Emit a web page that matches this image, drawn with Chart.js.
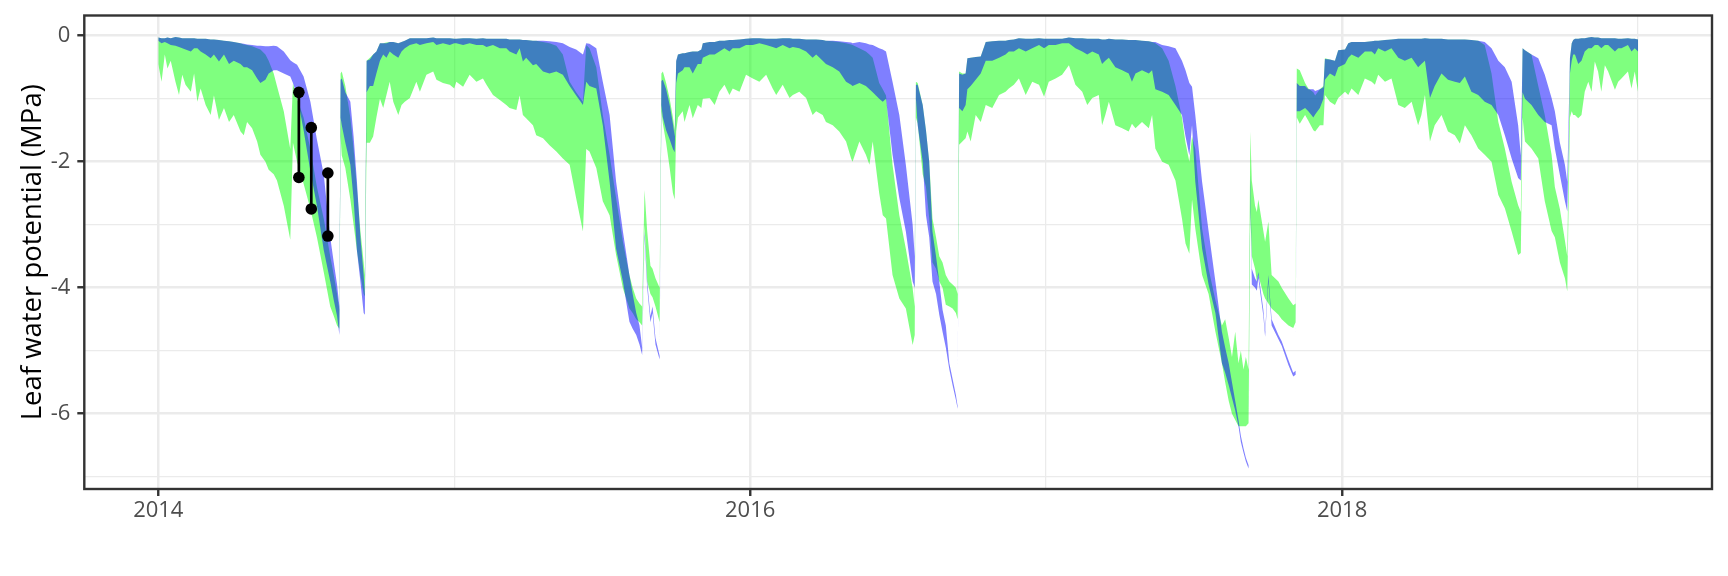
<!DOCTYPE html>
<html lang="en">
	<head>
		<meta charset="UTF-8" />
		<title>Leaf water potential</title>
		<script src="https://cdn.jsdelivr.net/npm/chart.js@4.4.1/dist/chart.umd.min.js"></script>
		<style>
			html, body { margin: 0; padding: 0; background: #ffffff; }
			#wrap { width: 1728px; height: 576px; }
		</style>
	</head>
	<body>
		<div id="wrap"><canvas id="lwpChart"></canvas></div>
		<script>
			// time axis in decimal years, values in MPa
			const dates = [
				2014.000, 2014.011, 2014.022, 2014.031, 2014.042, 2014.058, 2014.070, 2014.081, 2014.092, 2014.110,
				2014.121, 2014.132, 2014.143, 2014.160, 2014.177, 2014.188, 2014.205, 2014.222, 2014.239, 2014.255,
				2014.278, 2014.289, 2014.300, 2014.317, 2014.334, 2014.345, 2014.362, 2014.373, 2014.390, 2014.401,
				2014.424, 2014.446, 2014.455, 2014.469, 2014.491, 2014.514, 2014.536, 2014.559, 2014.581, 2014.593,
				2014.604, 2014.612, 2014.616, 2014.620, 2014.632, 2014.649, 2014.660, 2014.671, 2014.683, 2014.694,
				2014.698, 2014.704, 2014.715, 2014.726, 2014.737, 2014.749, 2014.760, 2014.771, 2014.782, 2014.794,
				2014.811, 2014.822, 2014.833, 2014.850, 2014.872, 2014.884, 2014.906, 2014.929, 2014.940, 2014.962,
				2014.985, 2015.000, 2015.007, 2015.030, 2015.052, 2015.075, 2015.097, 2015.109, 2015.131, 2015.154,
				2015.176, 2015.187, 2015.210, 2015.221, 2015.232, 2015.243, 2015.266, 2015.277, 2015.300, 2015.322,
				2015.345, 2015.367, 2015.390, 2015.412, 2015.435, 2015.446, 2015.457, 2015.480, 2015.502, 2015.525,
				2015.547, 2015.570, 2015.592, 2015.603, 2015.615, 2015.626, 2015.635, 2015.643, 2015.652, 2015.663,
				2015.670, 2015.680, 2015.694, 2015.700, 2015.705, 2015.716, 2015.728, 2015.739, 2015.745, 2015.750,
				2015.756, 2015.772, 2015.778, 2015.795, 2015.806, 2015.823, 2015.835, 2015.840, 2015.863, 2015.880,
				2015.896, 2015.913, 2015.930, 2015.941, 2015.964, 2015.986, 2016.009, 2016.031, 2016.054, 2016.076,
				2016.088, 2016.110, 2016.133, 2016.144, 2016.166, 2016.189, 2016.211, 2016.223, 2016.245, 2016.256,
				2016.279, 2016.301, 2016.324, 2016.341, 2016.346, 2016.369, 2016.391, 2016.403, 2016.414, 2016.436,
				2016.448, 2016.459, 2016.481, 2016.504, 2016.526, 2016.549, 2016.556, 2016.560, 2016.566, 2016.583,
				2016.594, 2016.605, 2016.616, 2016.628, 2016.639, 2016.650, 2016.661, 2016.673, 2016.684, 2016.695,
				2016.701, 2016.706, 2016.717, 2016.728, 2016.734, 2016.745, 2016.762, 2016.779, 2016.796, 2016.818,
				2016.841, 2016.863, 2016.874, 2016.891, 2016.908, 2016.931, 2016.953, 2016.976, 2016.993, 2017.009,
				2017.032, 2017.054, 2017.077, 2017.099, 2017.122, 2017.139, 2017.156, 2017.178, 2017.189, 2017.200,
				2017.212, 2017.234, 2017.257, 2017.279, 2017.290, 2017.302, 2017.324, 2017.347, 2017.358, 2017.369,
				2017.392, 2017.414, 2017.437, 2017.459, 2017.471, 2017.484, 2017.493, 2017.504, 2017.527, 2017.549,
				2017.572, 2017.594, 2017.605, 2017.617, 2017.628, 2017.639, 2017.650, 2017.658, 2017.667, 2017.675,
				2017.684, 2017.690, 2017.695, 2017.706, 2017.712, 2017.717, 2017.734, 2017.740, 2017.751, 2017.762,
				2017.785, 2017.796, 2017.819, 2017.835, 2017.843, 2017.847, 2017.857, 2017.875, 2017.886, 2017.903,
				2017.909, 2017.925, 2017.937, 2017.942, 2017.959, 2017.976, 2017.987, 2018.010, 2018.021, 2018.032,
				2018.055, 2018.077, 2018.100, 2018.111, 2018.122, 2018.145, 2018.167, 2018.190, 2018.212, 2018.235,
				2018.257, 2018.268, 2018.280, 2018.297, 2018.313, 2018.336, 2018.358, 2018.381, 2018.398, 2018.415,
				2018.437, 2018.460, 2018.482, 2018.505, 2018.528, 2018.550, 2018.573, 2018.595, 2018.604, 2018.610,
				2018.618, 2018.640, 2018.663, 2018.685, 2018.708, 2018.719, 2018.736, 2018.753, 2018.761, 2018.770,
				2018.776, 2018.781, 2018.787, 2018.798, 2018.809, 2018.820, 2018.832, 2018.843, 2018.854, 2018.865,
				2018.876, 2018.888, 2018.899, 2018.922, 2018.933, 2018.944, 2018.966, 2018.978, 2018.989, 2019.000,
			];

			const greenUpper = [
				-0.03, -0.04, -0.04, -0.03, -0.04, -0.02, -0.03, -0.04, -0.04, -0.04,
				-0.04, -0.05, -0.05, -0.05, -0.06, -0.06, -0.07, -0.08, -0.09, -0.10,
				-0.12, -0.14, -0.15, -0.17, -0.20, -0.22, -0.30, -0.40, -0.60, -0.80,
				-1.20, -1.80, -0.76, -1.00, -1.30, -1.80, -2.40, -2.90, -3.50, -3.80,
				-4.10, -4.35, -0.60, -0.57, -0.80, -1.30, -1.80, -2.40, -3.10, -3.60,
				-3.80, -0.40, -0.35, -0.30, -0.25, -0.12, -0.12, -0.11, -0.10, -0.10,
				-0.12, -0.10, -0.08, -0.04, -0.04, -0.04, -0.04, -0.03, -0.04, -0.04,
				-0.04, -0.05, -0.05, -0.04, -0.04, -0.05, -0.04, -0.05, -0.05, -0.05,
				-0.05, -0.06, -0.06, -0.06, -0.07, -0.07, -0.08, -0.08, -0.10, -0.12,
				-0.16, -0.30, -0.73, -0.90, -1.05, -0.15, -0.20, -0.50, -1.26, -1.89,
				-2.58, -3.27, -3.80, -4.00, -4.17, -4.25, -4.30, -2.45, -3.10, -3.65,
				-3.70, -3.85, -4.00, -0.60, -0.57, -0.75, -1.00, -1.30, -1.50, -0.41,
				-0.30, -0.28, -0.28, -0.26, -0.25, -0.25, -0.22, -0.12, -0.10, -0.10,
				-0.08, -0.08, -0.07, -0.07, -0.06, -0.05, -0.04, -0.04, -0.05, -0.05,
				-0.05, -0.04, -0.04, -0.05, -0.05, -0.06, -0.06, -0.06, -0.07, -0.08,
				-0.09, -0.10, -0.12, -0.14, -0.15, -0.20, -0.25, -0.30, -0.35, -0.75,
				-0.85, -0.95, -2.05, -2.85, -3.38, -4.01, -4.30, -0.73, -0.75, -1.10,
				-1.50, -2.00, -2.90, -3.20, -3.50, -3.60, -3.80, -3.90, -3.95, -4.00,
				-4.10, -0.57, -0.60, -0.60, -0.36, -0.35, -0.34, -0.33, -0.10, -0.09,
				-0.08, -0.08, -0.07, -0.06, -0.04, -0.05, -0.05, -0.04, -0.05, -0.05,
				-0.05, -0.05, -0.03, -0.04, -0.04, -0.05, -0.05, -0.05, -0.06, -0.06,
				-0.05, -0.06, -0.06, -0.07, -0.07, -0.07, -0.08, -0.09, -0.10, -0.12,
				-0.20, -0.40, -0.80, -1.30, -1.70, -2.00, -1.60, -1.80, -3.06, -3.70,
				-4.20, -4.60, -4.50, -4.80, -5.10, -4.70, -5.20, -5.00, -5.30, -5.10,
				-5.30, -1.52, -2.30, -2.70, -2.80, -2.60, -3.10, -3.27, -2.95, -3.80,
				-3.90, -4.00, -4.17, -4.28, -4.25, -0.52, -0.55, -0.75, -0.84, -0.90,
				-0.95, -0.85, -0.80, -0.36, -0.38, -0.40, -0.23, -0.22, -0.12, -0.10,
				-0.10, -0.10, -0.09, -0.08, -0.08, -0.07, -0.06, -0.05, -0.05, -0.05,
				-0.05, -0.05, -0.04, -0.05, -0.05, -0.05, -0.06, -0.06, -0.06, -0.06,
				-0.07, -0.08, -0.15, -0.60, -1.37, -1.79, -2.32, -2.69, -2.80, -0.20,
				-0.23, -0.30, -0.80, -1.26, -1.89, -2.40, -2.75, -3.25, -3.50, -0.36,
				-0.12, -0.07, -0.05, -0.05, -0.04, -0.04, -0.03, -0.02, -0.03, -0.03,
				-0.04, -0.04, -0.04, -0.04, -0.05, -0.05, -0.04, -0.05, -0.05, -0.06,
			];

			const greenLower = [
				-0.45, -0.73, -0.30, -0.52, -0.40, -0.73, -0.94, -0.62, -0.78, -0.89,
				-0.60, -1.05, -0.84, -1.10, -1.26, -0.95, -1.34, -1.15, -1.37, -1.26,
				-1.52, -1.58, -1.37, -1.47, -1.68, -1.89, -2.00, -2.13, -2.20, -2.30,
				-2.70, -3.24, -1.70, -2.00, -2.35, -2.75, -3.20, -3.75, -4.30, -4.45,
				-4.60, -4.65, -1.60, -1.90, -2.10, -2.60, -3.00, -3.40, -3.80, -4.10,
				-4.14, -1.70, -1.70, -1.60, -1.30, -1.00, -1.15, -0.94, -0.73, -1.05,
				-1.26, -1.10, -1.05, -0.99, -0.73, -0.89, -0.62, -0.57, -0.70, -0.75,
				-0.78, -0.84, -0.73, -0.81, -0.62, -0.73, -0.68, -0.78, -0.94, -1.02,
				-1.10, -1.15, -1.18, -0.95, -1.26, -1.31, -1.42, -1.58, -1.63, -1.74,
				-1.84, -1.95, -2.05, -2.58, -3.11, -1.80, -1.84, -2.10, -2.63, -2.85,
				-3.48, -4.01, -4.33, -4.40, -4.50, -4.55, -4.60, -3.00, -3.90, -4.10,
				-4.15, -4.30, -4.55, -1.20, -1.40, -1.70, -2.10, -2.50, -2.60, -1.52,
				-1.30, -1.20, -1.37, -1.10, -1.31, -1.10, -1.15, -1.00, -0.99, -1.10,
				-0.89, -0.78, -0.94, -0.84, -0.89, -0.62, -0.68, -0.73, -0.62, -0.84,
				-0.94, -0.78, -0.99, -0.94, -0.89, -0.99, -1.26, -1.20, -1.26, -1.37,
				-1.42, -1.52, -1.68, -1.95, -2.00, -1.68, -1.89, -2.05, -1.68, -2.50,
				-2.85, -2.90, -3.80, -4.17, -4.33, -4.91, -4.75, -1.30, -1.40, -2.20,
				-2.40, -2.90, -3.60, -3.70, -3.90, -4.00, -4.27, -4.30, -4.33, -4.40,
				-4.50, -1.73, -1.68, -1.63, -1.52, -1.68, -1.26, -1.37, -1.10, -1.15,
				-0.94, -0.89, -0.84, -0.78, -0.68, -0.94, -0.73, -0.78, -0.97, -0.73,
				-0.68, -0.62, -0.47, -0.78, -0.89, -1.10, -0.99, -0.94, -1.42, -1.26,
				-1.05, -1.42, -1.47, -1.52, -1.40, -1.47, -1.37, -1.47, -1.26, -1.79,
				-2.00, -2.05, -2.30, -2.90, -3.30, -3.46, -2.60, -3.06, -3.80, -4.10,
				-4.70, -5.20, -5.50, -5.80, -6.00, -6.10, -6.20, -6.20, -6.20, -6.20,
				-6.15, -2.80, -3.50, -3.70, -3.90, -3.80, -4.10, -4.17, -4.25, -4.33,
				-4.43, -4.50, -4.60, -4.64, -4.55, -1.30, -1.40, -1.26, -1.35, -1.50,
				-1.52, -1.42, -1.42, -0.94, -1.05, -1.10, -0.99, -0.89, -0.94, -0.84,
				-0.94, -0.68, -0.73, -0.78, -0.62, -0.73, -0.68, -1.10, -1.15, -1.05,
				-1.42, -1.26, -0.94, -1.68, -1.42, -1.26, -1.52, -1.58, -1.71, -1.42,
				-1.58, -1.79, -1.89, -2.00, -2.53, -2.74, -3.11, -3.48, -3.45, -1.30,
				-1.68, -1.79, -1.95, -2.63, -3.10, -3.20, -3.60, -3.85, -4.06, -1.30,
				-1.20, -1.26, -1.26, -1.31, -1.26, -0.89, -0.73, -0.89, -0.41, -0.57,
				-0.89, -0.47, -0.57, -0.86, -0.73, -0.68, -0.57, -0.84, -0.57, -0.89,
			];

			const blueUpper = [
				-0.03, -0.04, -0.04, -0.03, -0.04, -0.02, -0.03, -0.04, -0.04, -0.04,
				-0.04, -0.05, -0.05, -0.05, -0.06, -0.06, -0.07, -0.08, -0.09, -0.10,
				-0.12, -0.13, -0.14, -0.15, -0.16, -0.16, -0.17, -0.17, -0.16, -0.17,
				-0.25, -0.39, -0.42, -0.46, -0.65, -1.05, -1.65, -2.20, -3.20, -3.60,
				-3.95, -4.30, -0.70, -0.68, -0.90, -1.05, -1.60, -2.30, -3.20, -3.80,
				-4.10, -0.40, -0.38, -0.30, -0.25, -0.12, -0.12, -0.12, -0.10, -0.10,
				-0.12, -0.10, -0.08, -0.04, -0.04, -0.04, -0.04, -0.03, -0.04, -0.04,
				-0.04, -0.05, -0.05, -0.04, -0.04, -0.05, -0.04, -0.05, -0.05, -0.05,
				-0.05, -0.06, -0.06, -0.06, -0.07, -0.07, -0.08, -0.08, -0.08, -0.09,
				-0.10, -0.12, -0.18, -0.22, -0.30, -0.12, -0.13, -0.20, -0.73, -1.26,
				-2.32, -3.11, -3.80, -4.10, -4.40, -4.60, -4.95, -3.10, -3.90, -4.45,
				-4.30, -4.80, -5.08, -0.72, -0.70, -0.85, -1.10, -1.40, -1.60, -0.40,
				-0.30, -0.28, -0.28, -0.26, -0.25, -0.25, -0.22, -0.12, -0.10, -0.10,
				-0.08, -0.08, -0.07, -0.07, -0.06, -0.05, -0.04, -0.04, -0.05, -0.05,
				-0.05, -0.04, -0.04, -0.05, -0.05, -0.06, -0.06, -0.06, -0.07, -0.08,
				-0.08, -0.09, -0.10, -0.11, -0.12, -0.10, -0.12, -0.14, -0.15, -0.20,
				-0.22, -0.25, -0.73, -1.26, -2.05, -3.00, -3.50, -0.78, -0.78, -1.10,
				-1.50, -2.00, -3.11, -3.50, -3.90, -4.35, -4.60, -5.20, -5.45, -5.70,
				-5.88, -0.60, -0.62, -0.60, -0.36, -0.35, -0.34, -0.33, -0.10, -0.09,
				-0.08, -0.08, -0.07, -0.06, -0.04, -0.05, -0.05, -0.04, -0.05, -0.05,
				-0.05, -0.05, -0.03, -0.04, -0.04, -0.05, -0.05, -0.05, -0.06, -0.06,
				-0.05, -0.06, -0.06, -0.07, -0.07, -0.07, -0.08, -0.09, -0.10, -0.10,
				-0.15, -0.17, -0.20, -0.40, -0.55, -0.75, -0.81, -1.26, -2.32, -3.10,
				-3.90, -4.70, -4.95, -5.20, -5.50, -5.80, -6.10, -6.35, -6.55, -6.70,
				-6.82, -2.20, -3.70, -3.85, -3.90, -3.75, -4.35, -4.70, -3.80, -4.50,
				-4.75, -4.85, -5.15, -5.35, -5.32, -0.75, -0.80, -0.80, -0.85, -0.85,
				-0.88, -0.85, -0.82, -0.37, -0.38, -0.40, -0.23, -0.22, -0.12, -0.10,
				-0.10, -0.10, -0.09, -0.08, -0.08, -0.07, -0.06, -0.05, -0.05, -0.05,
				-0.05, -0.05, -0.04, -0.05, -0.05, -0.05, -0.06, -0.06, -0.06, -0.06,
				-0.07, -0.08, -0.10, -0.20, -0.40, -0.50, -0.73, -1.42, -1.90, -0.20,
				-0.23, -0.30, -0.36, -0.62, -0.99, -1.20, -1.70, -2.05, -2.32, -0.36,
				-0.12, -0.07, -0.05, -0.05, -0.04, -0.04, -0.03, -0.02, -0.03, -0.03,
				-0.04, -0.04, -0.04, -0.04, -0.05, -0.05, -0.04, -0.05, -0.05, -0.06,
			];

			const blueLower = [
				-0.08, -0.12, -0.10, -0.12, -0.15, -0.16, -0.18, -0.20, -0.22, -0.25,
				-0.20, -0.20, -0.25, -0.30, -0.36, -0.30, -0.41, -0.30, -0.45, -0.40,
				-0.45, -0.50, -0.50, -0.55, -0.68, -0.75, -0.70, -0.60, -0.55, -0.55,
				-0.60, -0.65, -0.75, -0.95, -1.50, -2.15, -2.70, -3.40, -3.90, -4.20,
				-4.45, -4.75, -1.30, -1.42, -1.70, -2.05, -2.60, -3.40, -3.90, -4.40,
				-4.43, -0.90, -0.80, -0.80, -0.60, -0.40, -0.30, -0.35, -0.25, -0.30,
				-0.35, -0.25, -0.20, -0.15, -0.12, -0.15, -0.12, -0.10, -0.15, -0.12,
				-0.15, -0.12, -0.12, -0.15, -0.12, -0.15, -0.15, -0.18, -0.15, -0.20,
				-0.20, -0.25, -0.30, -0.20, -0.41, -0.35, -0.47, -0.45, -0.57, -0.60,
				-0.57, -0.62, -0.80, -0.95, -1.10, -0.73, -0.80, -0.84, -1.42, -2.32,
				-3.38, -3.90, -4.54, -4.65, -4.75, -4.90, -5.07, -3.20, -4.00, -4.55,
				-4.40, -4.90, -5.14, -1.10, -1.30, -1.50, -1.65, -1.80, -1.85, -0.75,
				-0.60, -0.55, -0.50, -0.50, -0.60, -0.45, -0.45, -0.35, -0.30, -0.30,
				-0.25, -0.20, -0.25, -0.20, -0.20, -0.15, -0.15, -0.12, -0.15, -0.18,
				-0.20, -0.15, -0.20, -0.18, -0.20, -0.25, -0.35, -0.30, -0.40, -0.45,
				-0.50, -0.57, -0.73, -0.78, -0.80, -0.75, -0.80, -0.85, -0.90, -1.00,
				-1.05, -1.00, -1.89, -2.58, -3.11, -3.90, -4.00, -1.00, -1.42, -2.00,
				-2.85, -3.20, -3.90, -4.10, -4.43, -4.70, -4.95, -5.30, -5.55, -5.78,
				-5.92, -1.15, -1.20, -1.10, -0.85, -0.80, -0.70, -0.60, -0.40, -0.40,
				-0.35, -0.30, -0.25, -0.25, -0.20, -0.25, -0.20, -0.15, -0.20, -0.15,
				-0.15, -0.12, -0.12, -0.20, -0.25, -0.30, -0.25, -0.30, -0.45, -0.40,
				-0.35, -0.50, -0.55, -0.60, -0.73, -0.60, -0.55, -0.60, -0.55, -0.85,
				-0.89, -0.94, -1.10, -1.26, -1.60, -1.90, -1.42, -2.32, -3.38, -3.95,
				-4.40, -5.20, -5.35, -5.55, -5.75, -5.95, -6.20, -6.45, -6.62, -6.76,
				-6.87, -2.40, -3.95, -4.00, -4.05, -3.85, -4.45, -4.78, -3.90, -4.60,
				-4.82, -4.92, -5.23, -5.41, -5.38, -1.20, -1.20, -1.15, -1.20, -1.30,
				-1.25, -1.15, -1.00, -0.70, -0.60, -0.65, -0.50, -0.45, -0.35, -0.30,
				-0.35, -0.25, -0.25, -0.30, -0.20, -0.25, -0.20, -0.35, -0.40, -0.35,
				-0.50, -0.45, -0.40, -0.99, -0.80, -0.60, -0.70, -0.73, -0.75, -0.65,
				-0.89, -0.94, -1.05, -1.10, -1.26, -1.58, -1.95, -2.26, -2.30, -0.90,
				-1.00, -1.10, -1.26, -1.37, -1.42, -1.79, -2.21, -2.63, -2.79, -0.60,
				-0.40, -0.30, -0.30, -0.45, -0.40, -0.25, -0.20, -0.20, -0.15, -0.15,
				-0.20, -0.15, -0.15, -0.25, -0.20, -0.20, -0.15, -0.25, -0.20, -0.25,
			];

			// measured pairs (top and bottom of each bar)
			const obsDates = [2014.475, 2014.517, 2014.573];
			const obsHigh = [-0.9, -1.46, -2.18];
			const obsLow = [-2.25, -2.75, -3.18];

			const xTicks = [2014, 2015, 2016, 2017, 2018, 2019];
			const yTicks = [-7, -6, -5, -4, -3, -2, -1, 0];

			Chart.defaults.font.family = "'Open Sans', sans-serif";

			const toPoints = (ys) => dates.map((d, i) => ({ x: d, y: ys[i] }));
			const isMajor = (v) => Math.round(v) % 2 === 0;

			const ribbon = (ys, color, fill, order) => ({
				data: toPoints(ys),
				fill: fill,
				backgroundColor: color,
				borderColor: "rgba(0,0,0,0)",
				borderWidth: 0,
				pointRadius: 0,
				tension: 0,
				order: order,
			});

			const segments = [];
			obsDates.forEach((d, i) => {
				segments.push({ x: d, y: obsHigh[i] }, { x: d, y: obsLow[i] }, { x: d, y: null });
			});
			const obsPoints = [];
			obsDates.forEach((d, i) => {
				obsPoints.push({ x: d, y: obsHigh[i] }, { x: d, y: obsLow[i] });
			});

			const grid = {
				color: "#EBEBEB",
				lineWidth: (c) => (c.tick && isMajor(c.tick.value) ? 2.5 : 1.25),
				tickColor: (c) => (c.tick && isMajor(c.tick.value) ? "#333333" : "rgba(0,0,0,0)"),
				tickWidth: 2.4,
				tickLength: 7,
			};

			const panelBorder = {
				id: "panelBorder",
				afterDatasetsDraw(chart) {
					const { ctx, chartArea: a } = chart;
					ctx.save();
					ctx.strokeStyle = "#333333";
					ctx.lineWidth = 2.4;
					ctx.strokeRect(a.left, a.top, a.right - a.left, a.bottom - a.top);
					ctx.restore();
				},
			};

			new Chart(document.getElementById("lwpChart"), {
				type: "line",
				data: {
					datasets: [
						ribbon(greenLower, "rgba(0,255,0,0.5)", false, 3),
						ribbon(greenUpper, "rgba(0,255,0,0.5)", "-1", 3),
						ribbon(blueLower, "rgba(0,0,255,0.5)", false, 2),
						ribbon(blueUpper, "rgba(0,0,255,0.5)", "-1", 2),
						{
							data: segments,
							borderColor: "#000000",
							borderWidth: 2.7,
							pointRadius: 0,
							spanGaps: false,
							fill: false,
							order: 1,
						},
						{
							data: obsPoints,
							showLine: false,
							pointRadius: 5.8,
							pointBackgroundColor: "#000000",
							pointBorderWidth: 0,
							fill: false,
							order: 0,
						},
					],
				},
				options: {
					responsive: true,
					maintainAspectRatio: false,
					animation: false,
					devicePixelRatio: 1,
					events: [],
					layout: { padding: { top: 15.5, right: 16, bottom: 0, left: 0 } },
					plugins: {
						legend: { display: false },
						tooltip: { enabled: false },
					},
					scales: {
						x: {
							type: "linear",
							min: 2013.75,
							max: 2019.25,
							afterBuildTicks: (s) => {
								s.ticks = xTicks.map((v) => ({ value: v }));
							},
							afterFit: (s) => {
								s.height = 87;
								s.paddingLeft = 0;
								s.paddingRight = 0;
							},
							ticks: {
								autoSkip: false,
								maxRotation: 0,
								padding: 2,
								color: "#4D4D4D",
								font: { size: 22 },
								callback: (v) => (isMajor(v) ? String(v) : ""),
							},
							grid: grid,
							border: { display: false },
						},
						y: {
							type: "linear",
							min: -7.195,
							max: 0.32,
							afterBuildTicks: (s) => {
								s.ticks = yTicks.map((v) => ({ value: v }));
							},
							afterFit: (s) => {
								s.width = 84.3;
								s.paddingTop = 0;
								s.paddingBottom = 0;
							},
							ticks: {
								autoSkip: false,
								padding: 7,
								color: "#4D4D4D",
								font: { size: 22 },
								callback: (v) => (isMajor(v) ? String(v) : ""),
							},
							title: {
								display: true,
								text: "Leaf water potential (MPa)",
								color: "#000000",
								font: { size: 27.5 },
								padding: { top: 17, bottom: 0 },
							},
							grid: grid,
							border: { display: false },
						},
					},
				},
				plugins: [panelBorder],
			});
		</script>
	</body>
</html>
